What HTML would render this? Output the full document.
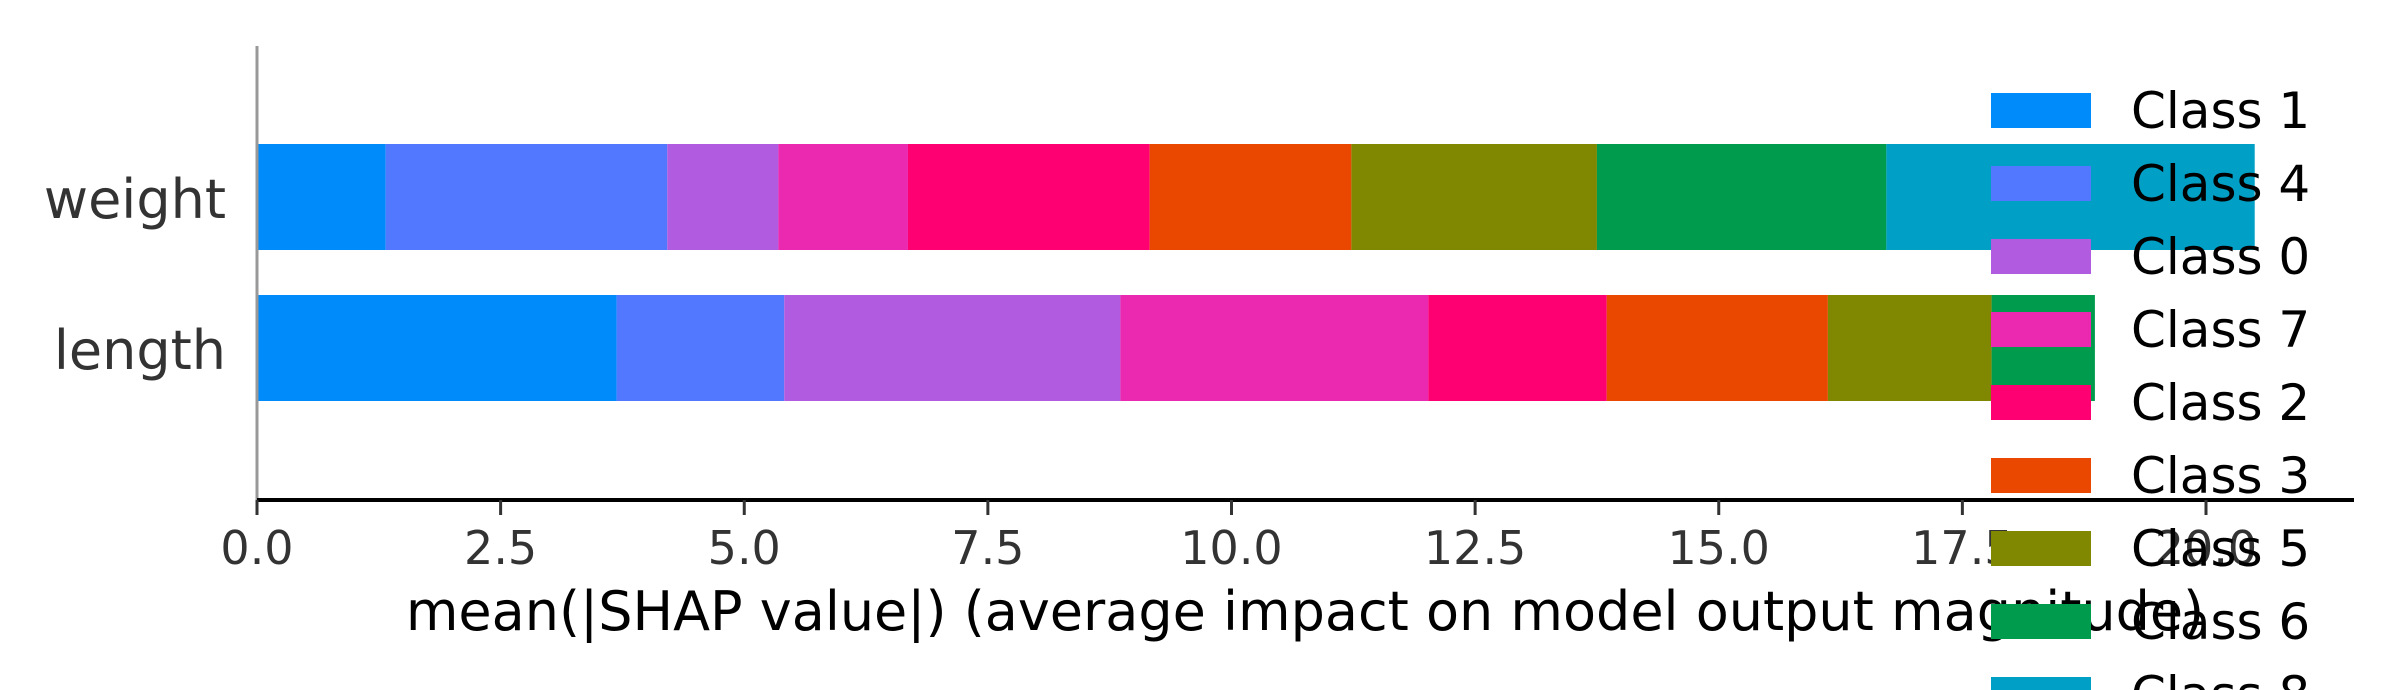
<!DOCTYPE html>
<html><head><meta charset="utf-8"><style>
html,body{margin:0;padding:0;background:#fff;width:2400px;height:690px;overflow:hidden}
svg{display:block;font-family:"DejaVu Sans","Liberation Sans",sans-serif}
</style></head><body>
<svg id="chart" width="2400" height="690" viewBox="0 0 2400 690" xmlns="http://www.w3.org/2000/svg">
<g id="bars"></g>
<g id="axes"></g>
<g id="legend"></g>
</svg>
<script>
const features = ["weight", "length"];
const classOrder = ["Class 1","Class 4","Class 0","Class 7","Class 2","Class 3","Class 5","Class 6","Class 8"];
const weightValues = [1.32, 2.89, 1.14, 1.33, 2.48, 2.07, 2.52, 2.97, 3.78];
const lengthValues = [3.69, 1.72, 3.45, 3.16, 1.83, 2.27, 1.68, 1.06, 0.0];
const tickValues = [0, 2.5, 5, 7.5, 10, 12.5, 15, 17.5, 20];
const tickLabels = ["0.0","2.5","5.0","7.5","10.0","12.5","15.0","17.5","20.0"];
const colors = ["#008bfb","#5178ff","#b15be0","#eb29b0","#ff0073","#ea4800","#808700","#009b4d","#00a0c6"];

const NS = "http://www.w3.org/2000/svg";
const x0 = 257, pxPerUnit = 97.45;
function xs(v){ return x0 + v * pxPerUnit; }
const rowTop = [144, 295], rowH = 106;
function mk(tag, attrs, parent){
  const e = document.createElementNS(NS, tag);
  for (const k in attrs) e.setAttribute(k, attrs[k]);
  parent.appendChild(e); return e;
}
const bars = document.getElementById('bars');
const series = [weightValues, lengthValues];
series.forEach((vals, r) => {
  let acc = 0;
  vals.forEach((v, i) => {
    const rect = mk('rect', {x: xs(acc), y: rowTop[r], width: Math.max(0, xs(acc+v)-xs(acc)), height: rowH, fill: colors[i]}, bars);
    
    
    acc += v;
  });
  const lab = mk('text', {x: 226, y: rowTop[r] + 74, 'text-anchor': 'end', 'font-size': 54, fill: '#333'}, bars);
  lab.textContent = features[r];
  
  
});
const axes = document.getElementById('axes');
const yl = mk('line', {x1: x0, y1: 46, x2: x0, y2: 500, stroke: '#999', 'stroke-width': 3}, axes);


const xl = mk('line', {x1: x0, y1: 500, x2: 2354, y2: 500, stroke: '#000', 'stroke-width': 4}, axes);


tickValues.forEach((t, i) => {
  const tk = mk('line', {x1: xs(t), y1: 500, x2: xs(t), y2: 515, stroke: '#333', 'stroke-width': 3}, axes);
  
  
  const tl = mk('text', {x: xs(t), y: 564, 'text-anchor': 'middle', 'font-size': 46, fill: '#333'}, axes);
  tl.textContent = tickLabels[i];
  
  
});
const xt = mk('text', {x: 1305, y: 630, 'text-anchor': 'middle', 'font-size': 54, fill: '#000'}, axes);
xt.textContent = "mean(|SHAP value|) (average impact on model output magnitude)";


const legend = document.getElementById('legend');
classOrder.forEach((c, i) => {
  const y = 93 + i * 73;
  const p = mk('rect', {x: 1991, y: y, width: 100, height: 35, fill: colors[i]}, legend);
  
  
  const t = mk('text', {x: 2131, y: y + 35, 'font-size': 50, fill: '#000'}, legend);
  t.textContent = c;
  
  
});
</script>
</body></html>
